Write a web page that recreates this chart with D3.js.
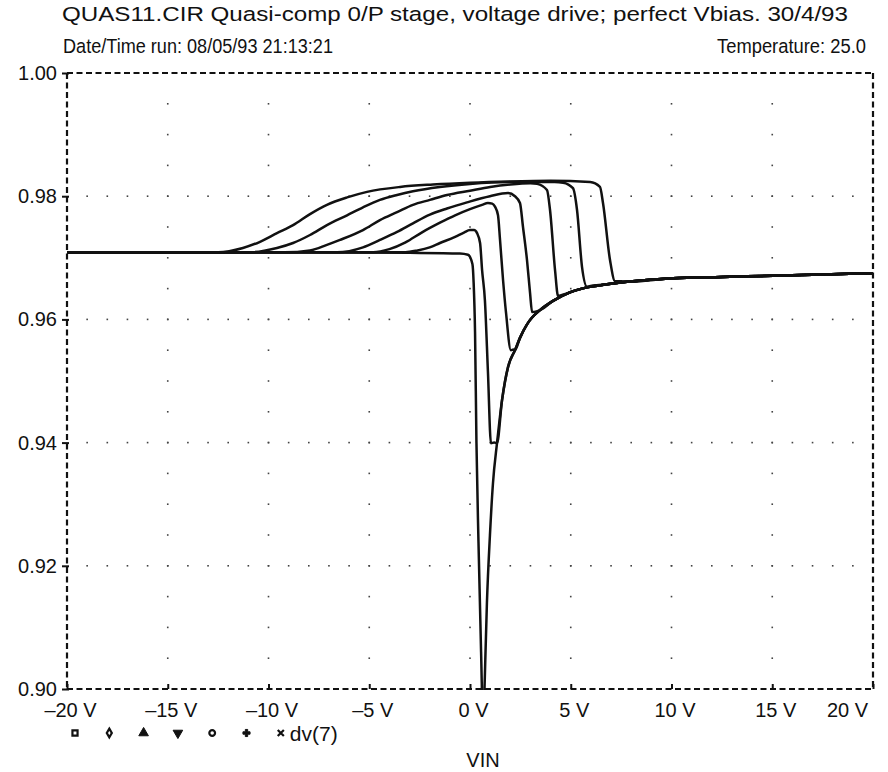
<!DOCTYPE html>
<html><head><meta charset="utf-8">
<script src="https://cdn.jsdelivr.net/npm/d3@7"></script>
<style>
html,body{margin:0;padding:0;background:#fff;}
svg{display:block;}
text{font-family:"Liberation Sans Narrow","Arial Narrow","Liberation Sans",Arial,sans-serif;fill:#111;}
</style></head>
<body>
<svg id="chart" width="888" height="772"></svg>
<script>
// ---------- data ----------
const titleLine = "QUAS11.CIR Quasi-comp 0/P stage, voltage drive; perfect Vbias. 30/4/93";
const dateLine = "Date/Time run: 08/05/93 21:13:21";
const tempLine = "Temperature: 25.0";
const xLabel = "VIN";
const legendLabel = "dv(7)";

const xTicks = [-20, -15, -10, -5, 0, 5, 10, 15, 20];
const xTickLabels = ["\u201320 V", "\u201315 V", "\u201310 V", "\u20135 V", "0 V", "5 V", "10 V", "15 V", "20 V"];
const yTicks = [0.90, 0.92, 0.94, 0.96, 0.98, 1.00];
const yTickLabels = ["0.90", "0.92", "0.94", "0.96", "0.98", "1.00"];

// common recovery envelope (VIN, dv(7))
const envelope = [
  [0.72, 0.900], [0.84, 0.914], [0.99, 0.925], [1.14, 0.9334], [1.34, 0.9399],
  [1.59, 0.9469], [1.89, 0.9523], [2.23, 0.9550], [2.48, 0.9570], [2.83, 0.9592],
  [3.08, 0.9603], [3.47, 0.9615], [4.12, 0.9630], [4.96, 0.9644], [5.81, 0.9652],
  [6.80, 0.9657], [7.79, 0.9661], [10.07, 0.9667], [12.5, 0.9669], [15.04, 0.9671],
  [17.5, 0.9673], [20, 0.9675]
];
// VIN at which each curve merges into the envelope
const joinV = [0.72, 1.34, 2.23, 3.47, 4.96, 6.80, 7.79];

const curve1 = [
  [-20, 0.9709], [-10, 0.9709], [-3, 0.9708], [-0.5, 0.9707], [-0.1, 0.9705],
  [0.12, 0.9690], [0.18, 0.9660], [0.25, 0.9580], [0.32, 0.9400], [0.42, 0.9240],
  [0.55, 0.9060], [0.66, 0.8930]
];
const curve2 = [
  [-20, 0.9709], [-10, 0.9709], [-3.2, 0.9709], [-2.6, 0.9712], [-2.0, 0.9717],
  [-1.49, 0.9724], [-0.74, 0.9734], [-0.3, 0.9741], [0.0, 0.9745], [0.2, 0.9745],
  [0.35, 0.9740], [0.50, 0.9724], [0.60, 0.9680], [0.74, 0.9631], [0.89, 0.9515],
  [1.04, 0.9399], [1.2, 0.9400]
];
const curve3 = [
  [-20, 0.9709], [-10, 0.9709], [-4.8, 0.9709], [-4.0, 0.9714], [-3.2, 0.9725],
  [-2.4, 0.9741], [-1.49, 0.9757], [-0.74, 0.9769], [0.0, 0.9779], [0.6, 0.9786],
  [0.89, 0.9789], [1.1, 0.9788], [1.24, 0.9783], [1.39, 0.9769], [1.49, 0.9729],
  [1.64, 0.9664], [1.79, 0.9610], [2.03, 0.9550], [2.15, 0.9551]
];
const curve4 = [
  [-20, 0.9709], [-10, 0.9709], [-6.6, 0.9709], [-5.31, 0.9717], [-4.47, 0.9729],
  [-3.62, 0.9742], [-2.83, 0.9756], [-1.99, 0.9770], [-1.14, 0.9780], [-0.15, 0.9790],
  [0.99, 0.9800], [1.89, 0.9805], [2.23, 0.9800], [2.48, 0.9789], [2.63, 0.9750],
  [2.83, 0.9696], [2.98, 0.9643], [3.08, 0.9612], [3.3, 0.9613]
];
const curve5 = [
  [-20, 0.9709], [-12, 0.9709], [-9.2, 0.9709], [-7.94, 0.9712], [-7.10, 0.9721],
  [-6.45, 0.9729], [-5.31, 0.9745], [-4.47, 0.9761], [-3.62, 0.9774], [-2.83, 0.9786],
  [-1.99, 0.9794], [-1.14, 0.9802], [0.0, 0.9809], [1.0, 0.9815], [2.0, 0.9819],
  [3.0, 0.9821], [3.33, 0.9820], [3.82, 0.9810], [3.97, 0.9778], [4.22, 0.9680],
  [4.37, 0.9638], [4.6, 0.9640]
];
const curve6 = [
  [-20, 0.9709], [-12, 0.9709], [-10.9, 0.9709], [-9.58, 0.9716], [-8.78, 0.9724],
  [-7.94, 0.9737], [-7.10, 0.9753], [-6.10, 0.9769], [-5.31, 0.9782], [-4.47, 0.9794],
  [-3.62, 0.9802], [-2.83, 0.9808], [-1.5, 0.9815], [0.0, 0.9820], [2.0, 0.9823],
  [4.2, 0.9823], [4.62, 0.9822], [5.11, 0.9813], [5.31, 0.9778], [5.56, 0.9685],
  [5.81, 0.9653], [6.1, 0.9655]
];
const curve7 = [
  [-20, 0.9709], [-14, 0.9709], [-12.5, 0.9709], [-11.27, 0.9716], [-10.42, 0.9726],
  [-9.58, 0.9740], [-8.78, 0.9753], [-7.94, 0.9771], [-7.10, 0.9786], [-6.10, 0.9798],
  [-5.11, 0.9807], [-3.47, 0.9815], [-1.84, 0.9819], [0.0, 0.9822], [2.0, 0.9824],
  [4.0, 0.9825], [5.96, 0.9823], [6.45, 0.9815], [6.60, 0.9789], [6.95, 0.9696],
  [7.20, 0.9662], [7.5, 0.9662]
];
const curves = [curve1, curve2, curve3, curve4, curve5, curve6, curve7];

// ---------- drawing ----------
const svg = d3.select("#chart");
const x = d3.scaleLinear().domain([-20, 20]).range([67, 873]);
const y = d3.scaleLinear().domain([0.90, 1.00]).range([689, 73]);
const FS = 20.5;
const FS2 = 20;
const FF = "Liberation Sans, Arial, sans-serif";

// titles
svg.append("text").attr("x", 455).attr("y", 21).attr("text-anchor", "middle")
  .attr("font-size", FS).attr("textLength", 786).attr("lengthAdjust", "spacingAndGlyphs").text(titleLine);
svg.append("text").attr("x", 63).attr("y", 53)
  .attr("font-size", FS).attr("textLength", 270).attr("lengthAdjust", "spacingAndGlyphs").text(dateLine);
svg.append("text").attr("x", 866).attr("y", 53).attr("text-anchor", "end")
  .attr("font-size", FS).attr("textLength", 149).attr("lengthAdjust", "spacingAndGlyphs").text(tempLine);

// grid dots
const grid = svg.append("g").attr("fill", "#444");
const xMinor = d3.range(-19, 20, 1);
yTicks.slice(1, -1).forEach(v => {
  xMinor.forEach(u => {
    grid.append("rect").attr("x", x(u) - 0.8).attr("y", y(v) - 0.8).attr("width", 1.6).attr("height", 1.6);
  });
});
const yMinor = d3.range(0.905, 0.9999, 0.005);
xTicks.slice(1, -1).forEach(u => {
  yMinor.forEach(v => {
    grid.append("rect").attr("x", x(u) - 0.8).attr("y", y(v) - 0.8).attr("width", 1.6).attr("height", 1.6);
  });
});

// dashed frame
const frame = svg.append("g").attr("stroke", "#111").attr("stroke-width", 2.2).attr("stroke-dasharray", "6,3.5").attr("fill", "none");
frame.append("line").attr("x1", x(-20)).attr("x2", x(20)).attr("y1", y(1)).attr("y2", y(1));
frame.append("line").attr("x1", x(-20)).attr("x2", x(20)).attr("y1", y(0.9)).attr("y2", y(0.9));
frame.append("line").attr("x1", x(-20)).attr("x2", x(-20)).attr("y1", y(1)).attr("y2", y(0.9));
frame.append("line").attr("x1", x(20)).attr("x2", x(20)).attr("y1", y(1)).attr("y2", y(0.9));

// axes
const yAxis = svg.append("g").attr("transform", `translate(${x(-20)},0)`)
  .call(d3.axisLeft(y).tickValues(yTicks).tickFormat((d, i) => yTickLabels[i]).tickSize(5).tickPadding(5).tickSizeOuter(0));
yAxis.select(".domain").remove();
yAxis.selectAll(".tick line").attr("stroke", "#111").attr("stroke-width", 2).attr("x2", -5).attr("x1", 2);
yAxis.selectAll(".tick text").attr("font-size", FS2).attr("font-family", FF).style("fill", "#111");

const xAxis = svg.append("g").attr("transform", `translate(0,${y(0.9)})`)
  .call(d3.axisBottom(x).tickValues(xTicks).tickFormat((d, i) => xTickLabels[i]).tickSize(-5).tickPadding(14).tickSizeOuter(0));
xAxis.select(".domain").remove();
xAxis.selectAll(".tick line").attr("stroke", "#111").attr("stroke-width", 2);
xAxis.selectAll(".tick text").attr("font-size", FS2).attr("font-family", FF).style("fill", "#111")
  .attr("dx", (d, i) => i === xTicks.length - 1 ? -26 : 3);

// curves
svg.append("clipPath").attr("id", "plotclip").append("rect")
  .attr("x", x(-20)).attr("y", y(1)).attr("width", x(20) - x(-20)).attr("height", y(0.9) - y(1) + 1);
const line = d3.line().x(d => x(d[0])).y(d => y(d[1])).curve(d3.curveMonotoneX);
const cg = svg.append("g").attr("clip-path", "url(#plotclip)");
curves.forEach((c, i) => {
  const pts = c.concat(envelope.filter(p => p[0] >= joinV[i]));
  cg.append("path").attr("d", line(pts)).attr("fill", "none").attr("stroke", "#111")
    .attr("stroke-width", 2.5).attr("stroke-linejoin", "round");
});

// legend
const legY = 733;
const symTypes = [
  {t: d3.symbolSquare, s: 26, fill: false},
  {t: d3.symbolDiamond, s: 22, fill: false},
  {t: d3.symbolTriangle, s: 40, fill: true},
  {t: d3.symbolTriangle, s: 40, fill: true, rot: 180},
  {t: d3.symbolCircle, s: 26, fill: false},
  {t: d3.symbolCross, s: 28, fill: true},
  {t: d3.symbolTimes || d3.symbolCross, s: 26, fill: false, rot: d3.symbolTimes ? 0 : 45}
];
symTypes.forEach((st, i) => {
  const cx = x(-20) + 8 + i * 34.3;
  svg.append("path").attr("d", d3.symbol().type(st.t).size(st.s)())
    .attr("transform", `translate(${cx},${legY}) rotate(${st.rot || 0})`)
    .attr("fill", st.fill ? "#111" : "none").attr("stroke", "#111").attr("stroke-width", st.fill ? 1 : 2.2);
});
svg.append("text").attr("x", x(-20) + 8 + 6 * 34.3 + 9).attr("y", legY + 8)
  .attr("font-size", FS2 + 1).attr("font-family", FF).text(legendLabel);

svg.append("text").attr("x", 483).attr("y", 767).attr("text-anchor", "middle")
  .attr("font-size", FS2).attr("font-family", FF).text(xLabel);
</script>
</body></html>
